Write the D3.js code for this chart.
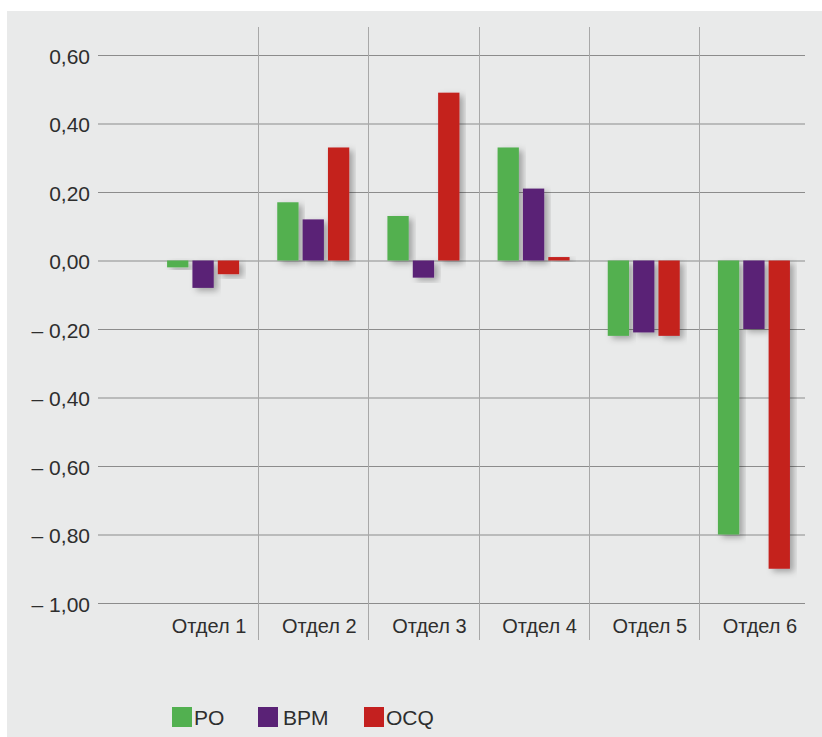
<!DOCTYPE html>
<html>
<head>
<meta charset="utf-8">
<script src="https://cdn.jsdelivr.net/npm/d3@7"></script>
<style>
  html, body { margin: 0; padding: 0; background: #ffffff; }
  svg { display: block; }
  text { font-family: "Liberation Sans", Arial, Helvetica, sans-serif; fill: #2e2e2e; }
</style>
</head>
<body>
<svg id="chart" width="822" height="737"></svg>
<script>
// Departments and the three indicators per department
const categories = ["Отдел 1", "Отдел 2", "Отдел 3", "Отдел 4", "Отдел 5", "Отдел 6"];
const seriesNames = ["PO", "BPM", "OCQ"];
const poValues  = [-0.02, 0.17, 0.13, 0.33, -0.22, -0.80];
const bpmValues = [-0.08, 0.12, -0.05, 0.21, -0.21, -0.20];
const ocqValues = [-0.04, 0.33, 0.49, 0.01, -0.22, -0.90];
const yTicks = [0.6, 0.4, 0.2, 0, -0.2, -0.4, -0.6, -0.8, -1.0];
const seriesColors = ["#52b050", "#5a2276", "#c4201f"];

const seriesValues = [poValues, bpmValues, ocqValues];
const rows = categories.map((c, i) => ({
  category: c,
  values: seriesNames.map((s, j) => ({ series: s, value: seriesValues[j][i] }))
}));

const svg = d3.select("#chart");

// Panel background
svg.append("rect")
  .attr("x", 7).attr("y", 11)
  .attr("width", 815).attr("height", 726)
  .attr("fill", "#e9eaea");

// Soft drop shadow under bars
const defs = svg.append("defs");
const shadow = defs.append("filter").attr("id", "barShadow")
  .attr("x", "-30%").attr("y", "-30%").attr("width", "160%").attr("height", "160%");
shadow.append("feDropShadow")
  .attr("dx", 4).attr("dy", 3).attr("stdDeviation", 3)
  .attr("flood-color", "#000").attr("flood-opacity", 0.3);

// Scales
const y = d3.scaleLinear().domain([-1.0, 0.6]).range([603, 55]);
const x0 = d3.scaleBand().domain(categories).range([148, 809]).padding(0);
const groupWidth = 72;
const x1 = d3.scaleBand().domain(seriesNames)
  .range([(x0.bandwidth() - groupWidth) / 2, (x0.bandwidth() + groupWidth) / 2])
  .paddingInner(0.16).paddingOuter(0);
const color = d3.scaleOrdinal().domain(seriesNames).range(seriesColors);

// Horizontal grid lines + tick labels via a left axis
const fmt = v => {
  const s = Math.abs(v).toFixed(2).replace(".", ",");
  return v < 0 ? "– " + s : s;
};
const yAxis = d3.axisLeft(y)
  .tickValues(yTicks)
  .tickFormat(fmt)
  .tickSize(-(805 - 98))
  .tickPadding(8);

const gy = svg.append("g")
  .attr("transform", "translate(98,0)")
  .call(yAxis);
gy.select(".domain").remove();
gy.selectAll(".tick line")
  .attr("stroke", "#8c8c8c")
  .attr("stroke-width", 1.2);
gy.selectAll(".tick text")
  .attr("font-size", 21)
  .attr("fill", "#2e2e2e")
  .attr("dy", "0.4em");

// Vertical separators between departments
svg.append("g")
  .selectAll("line")
  .data(categories.slice(1))
  .join("line")
  .attr("x1", d => Math.round(x0(d)) + 0.5)
  .attr("x2", d => Math.round(x0(d)) + 0.5)
  .attr("y1", 27).attr("y2", 640)
  .attr("stroke", "#a8a8a8")
  .attr("stroke-width", 1);

// Bars
const groups = svg.append("g")
  .selectAll("g")
  .data(rows)
  .join("g")
  .attr("transform", d => `translate(${x0(d.category)},0)`);

groups.selectAll("rect")
  .data(d => d.values)
  .join("rect")
  .attr("x", d => x1(d.series))
  .attr("width", x1.bandwidth())
  .attr("y", d => y(Math.max(0, d.value)))
  .attr("height", d => Math.abs(y(d.value) - y(0)))
  .attr("fill", d => color(d.series))
  .attr("filter", "url(#barShadow)");

// Department labels
svg.append("g")
  .selectAll("text")
  .data(categories)
  .join("text")
  .attr("x", d => x0(d) + x0.bandwidth() / 2 + 6)
  .attr("y", 633)
  .attr("text-anchor", "middle")
  .attr("font-size", 20)
  .text(d => d);

// Legend
const legendX = [172, 258, 364];
const legend = svg.append("g")
  .selectAll("g")
  .data(seriesNames)
  .join("g")
  .attr("transform", (d, i) => `translate(${legendX[i]},707)`);
legend.append("rect")
  .attr("width", 20).attr("height", 20)
  .attr("fill", d => color(d));
legend.append("text")
  .attr("x", (d, i) => i === 1 ? 25 : 22)
  .attr("y", 18)
  .attr("font-size", 21)
  .text(d => d);
</script>
</body>
</html>
